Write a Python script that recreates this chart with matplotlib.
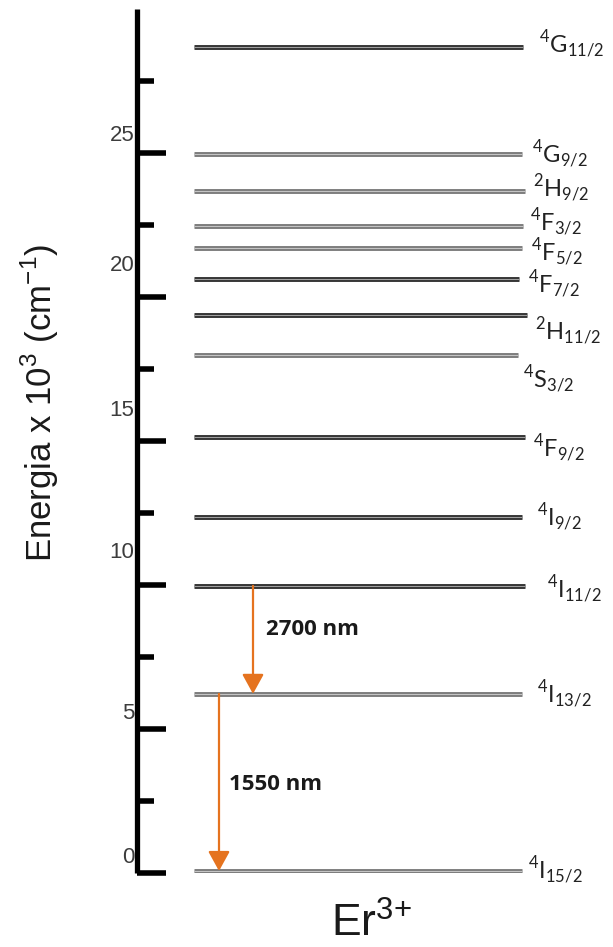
import matplotlib
matplotlib.use('Agg')
import matplotlib.pyplot as plt
import matplotlib.transforms as mtransforms
from matplotlib.ticker import FixedLocator

plt.rcParams['font.family'] = ['Liberation Sans', 'DejaVu Sans']
plt.rcParams['mathtext.fontset'] = 'custom'
plt.rcParams['mathtext.rm'] = 'Lato'
plt.rcParams['mathtext.sf'] = 'Liberation Sans'

# Er3+ energy levels, x 10^3 cm^-1
term_letter = ['I', 'I', 'I', 'I', 'F', 'S', 'H', 'F', 'F', 'F', 'H', 'G', 'G']
term_mult = [4, 4, 4, 4, 4, 4, 2, 4, 4, 4, 2, 4, 4]
term_j = ['15/2', '13/2', '11/2', '9/2', '9/2', '3/2', '11/2', '7/2', '5/2',
          '3/2', '9/2', '9/2', '11/2']
energy = [0.07, 6.22, 9.97, 12.36, 15.14, 17.99, 19.38, 20.63, 21.70,
          22.47, 23.68, 24.97, 28.68]

# emission lines: (upper level index, lower level index, label)
trans_upper = [2, 1]
trans_lower = [1, 0]
trans_label = ['2700 nm', '1550 nm']

ytick_vals = [0, 5, 10, 15, 20, 25]
ytick_minor = [2.5, 7.5, 12.5, 17.5, 22.5, 27.5]

# drawing layout (x in pixel-like units of the axes)
line_x0 = 194
line_x1 = [522, 522, 525, 522, 525, 518, 527, 519, 522, 523, 525, 522, 523]
lab_x = [528, 537, 547, 537, 533, 523, 535, 528, 531, 530, 533, 532, 539]
lab_dy = [0, 1, 4, 1, 12, 25, 17, 6, 5, -3, -2, 1, -2]   # px below line
dark = [False, False, True, True, True, False, True, True, False, False,
        False, False, True]
arrow_x = [253, 219]
text_x = [266, 229]
text_frac = [0.60, 0.49]
ytick_dy = [18, 18, 35, 33, 34, 20]   # px above tick
orange = '#E5731F'

W, H = 613, 947
fig = plt.figure(figsize=(W / 100, H / 100), dpi=100)
ax = fig.add_axes([137 / W, (H - 873) / H, (W - 137) / W, (873 - 9) / H])
ax.set_xlim(137, W)
ax.set_ylim(0, 30)

for s in ['top', 'right', 'bottom']:
    ax.spines[s].set_visible(False)
ax.spines['left'].set_linewidth(3.8)
ax.spines['left'].set_capstyle('butt')
ax.xaxis.set_visible(False)

ax.set_yticks(ytick_vals)
ax.yaxis.set_minor_locator(FixedLocator(ytick_minor))
ax.tick_params(axis='y', which='major', direction='in', length=21, width=4,
               pad=2, labelsize=16, labelcolor='#3c3c3c')
ax.tick_params(axis='y', which='minor', direction='in', length=12, width=4)

for tick, dy in zip(ax.yaxis.get_major_ticks(), ytick_dy):
    off = mtransforms.ScaledTranslation(0, dy / 100, fig.dpi_scale_trans)
    tick.label1.set_transform(tick.label1.get_transform() + off)

# levels: double line look
for i, e in enumerate(energy):
    outer = '#1e1e1e' if dark[i] else '#6e6e6e'
    inner = '#a0a0a0' if dark[i] else '#c4c4c4'
    ax.plot([line_x0, line_x1[i]], [e, e], color=outer, lw=3.4,
            solid_capstyle='butt')
    ax.plot([line_x0, line_x1[i]], [e, e], color=inner, lw=1.0,
            solid_capstyle='butt')
    lab = r'$^{%d}\mathrm{%s}_{%s}$' % (term_mult[i], term_letter[i], term_j[i])
    off = mtransforms.ScaledTranslation(0, -lab_dy[i] / 100, fig.dpi_scale_trans)
    ax.text(lab_x[i], e, lab, fontsize=17, color='#222222', ha='left',
            va='center', transform=ax.transData + off)

# emission arrows
for k in range(len(trans_label)):
    e_hi = energy[trans_upper[k]]
    e_lo = energy[trans_lower[k]]
    ax.annotate('', xy=(arrow_x[k], e_lo), xytext=(arrow_x[k], e_hi),
                arrowprops=dict(arrowstyle='-|>,head_length=1.0,head_width=0.55',
                                mutation_scale=12, color=orange, lw=1.6,
                                shrinkA=0, shrinkB=0))
    ax.text(text_x[k], e_lo + text_frac[k] * (e_hi - e_lo), trans_label[k],
            fontsize=16, fontweight='bold', family='Open Sans',
            color='#1a1a1a', ha='left', va='center')

fig.text(40 / W, 1 - 403 / H,
         r'Energia x 10$^{\mathsf{3}}$ (cm$^{\mathsf{-1}}$)',
         rotation=90, fontsize=25, ha='center', va='center', color='#1a1a1a')
fig.text(371 / W, 1 - 937 / H, r'Er$^{\mathsf{3{+}}}$', fontsize=32,
         ha='center', va='baseline', color='#1a1a1a')

fig.savefig('out.png', dpi=100)
